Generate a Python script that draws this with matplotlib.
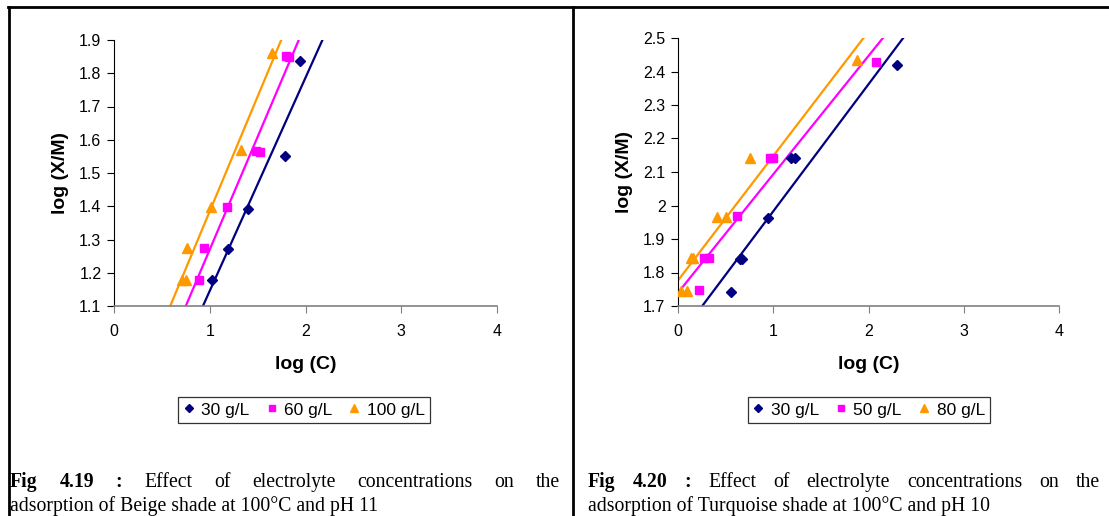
import numpy as np
import matplotlib.pyplot as plt
from matplotlib.lines import Line2D
from matplotlib.ticker import FormatStrFormatter

# Fig 4.19 (Beige, pH 11)
beige_labels = ['30 g/L', '60 g/L', '100 g/L']
beige_x = [
    [1.02, 1.19, 1.40, 1.79, 1.94],
    [0.89, 0.94, 1.18, 1.48, 1.52, 1.80, 1.83],
    [0.71, 0.75, 0.76, 1.01, 1.33, 1.65],
]
beige_y = [
    [1.178, 1.270, 1.393, 1.551, 1.836],
    [1.178, 1.274, 1.397, 1.566, 1.563, 1.852, 1.848],
    [1.178, 1.178, 1.274, 1.397, 1.568, 1.860],
]

# Fig 4.20 (Turquoise, pH 10)
turq_labels = ['30 g/L', '50 g/L', '80 g/L']
turq_x = [
    [0.56, 0.65, 0.67, 0.94, 1.19, 1.23, 2.30],
    [0.22, 0.27, 0.33, 0.62, 0.97, 1.00, 2.08],
    [0.03, 0.09, 0.14, 0.16, 0.41, 0.50, 0.76, 1.88],
]
turq_y = [
    [1.742, 1.839, 1.839, 1.964, 2.141, 2.141, 2.418],
    [1.748, 1.844, 1.844, 1.968, 2.143, 2.143, 2.428],
    [1.746, 1.746, 1.842, 1.842, 1.967, 1.967, 2.141, 2.434],
]

colors = ['#000080', '#FF00FF', '#FF9900']
markers = ['D', 's', '^']
msizes = [5.5, 6, 7]

plt.rcParams['font.family'] = ['Liberation Sans', 'DejaVu Sans']

fig = plt.figure(figsize=(11.09, 5.16), dpi=100)
W, H = 1109, 516


def draw_panel(rect, xs, ys, labels, ylim, yticks, legend_x):
    ax = fig.add_axes(rect)
    handles = []
    for i in range(3):
        x = np.array(xs[i])
        y = np.array(ys[i])
        k, b = np.polyfit(x, y, 1)
        xx = np.array([-1.0, 5.0])
        ax.plot(xx, k * xx + b, color=colors[i], lw=1.6, zorder=2)
        ax.plot(x, y, ls='none', marker=markers[i], ms=msizes[i],
                color=colors[i], mec=colors[i], zorder=3)
        handles.append(Line2D([], [], ls='none', marker=markers[i],
                              ms=msizes[i] - 1.5, color=colors[i]))
    ax.set_xlim(0, 4)
    ax.set_ylim(*ylim)
    ax.set_xticks([0, 1, 2, 3, 4])
    ax.set_yticks(yticks)
    ax.yaxis.set_major_formatter(FormatStrFormatter('%g'))
    for s in ['top', 'right']:
        ax.spines[s].set_visible(False)
    ax.spines['left'].set_color('black')
    ax.spines['bottom'].set_color('#808080')
    ax.spines['bottom'].set_linewidth(1.2)
    ax.tick_params(axis='both', direction='out', length=5, labelsize=11.5)
    ax.tick_params(axis='x', color='#808080', pad=8)
    ax.tick_params(axis='y', pad=4)
    ax.set_xlabel('log (C)', fontsize=14, fontweight='bold', labelpad=12)
    ax.set_ylabel('log (X/M)', fontsize=14, fontweight='bold', labelpad=7)
    leg = ax.legend(handles, labels, loc='center', ncol=3,
                    bbox_to_anchor=(legend_x, 1 - 410 / H),
                    bbox_transform=fig.transFigure,
                    fontsize=12.5, frameon=True, fancybox=False,
                    edgecolor='black', handlelength=0.6, handletextpad=0.4,
                    columnspacing=1.0, borderpad=0.3)
    leg.get_frame().set_linewidth(0.9)
    return ax


draw_panel([114 / W, 1 - 306 / H, 383 / W, 266 / H],
           beige_x, beige_y, beige_labels, (1.1, 1.9),
           np.round(np.arange(1.1, 1.91, 0.1), 1), 304 / W)
draw_panel([678 / W, 1 - 306 / H, 381 / W, 268 / H],
           turq_x, turq_y, turq_labels, (1.7, 2.5),
           np.round(np.arange(1.7, 2.51, 0.1), 1), 869 / W)

# frame lines
fig.add_artist(Line2D([8 / W, 1], [1 - 7 / H, 1 - 7 / H], color='black', lw=2))
fig.add_artist(Line2D([9 / W, 9 / W], [0, 1 - 7 / H], color='black', lw=2))
fig.add_artist(Line2D([573 / W, 573 / W], [0, 1 - 7 / H], color='black', lw=2))

# captions (first line justified)
serif = ['Liberation Serif', 'DejaVu Serif']
fs = 14.2
fig.canvas.draw()
renderer = fig.canvas.get_renderer()


def justified_line(x0, x1, y, items):
    texts = [fig.text(0, y, t, fontsize=fs, family=serif, fontweight=wt,
                      va='baseline') for t, wt in items]
    widths = [t.get_window_extent(renderer).width for t in texts]
    gap = ((x1 - x0) - sum(widths)) / (len(texts) - 1)
    x = x0
    for t, w in zip(texts, widths):
        t.set_x(x / W)
        x += w + gap


rest = ['Effect', 'of', 'electrolyte', 'concentrations', 'on', 'the']
justified_line(10, 560, 1 - 487 / H,
               [('Fig', 'bold'), ('4.19', 'bold'), (':', 'bold')]
               + [(w, 'normal') for w in rest])
fig.text(10 / W, 1 - 511 / H, 'adsorption of Beige shade at 100°C and pH 11',
         fontsize=fs, family=serif, va='baseline')
justified_line(588, 1100, 1 - 487 / H,
               [('Fig', 'bold'), ('4.20', 'bold'), (':', 'bold')]
               + [(w, 'normal') for w in rest])
fig.text(588 / W, 1 - 511 / H, 'adsorption of Turquoise shade at 100°C and pH 10',
         fontsize=fs, family=serif, va='baseline')

fig.savefig('out.png', dpi=100)
